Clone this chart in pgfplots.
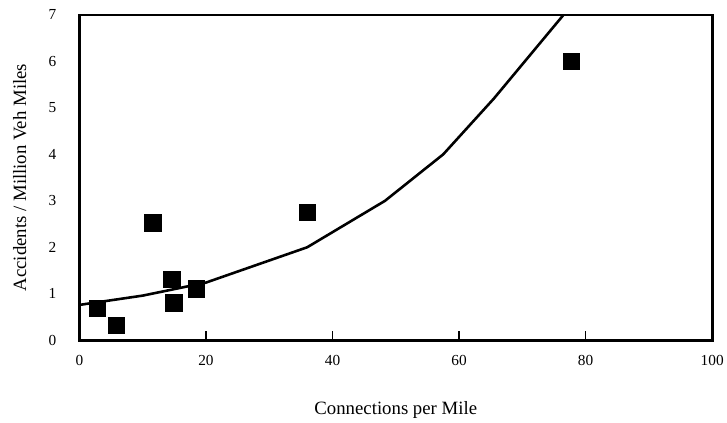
\documentclass[border=0pt]{standalone}
\usepackage{fontspec}
\setmainfont{Liberation Serif}
\usepackage{pgfplots}
\pgfplotsset{compat=1.18}
\begin{document}
\begin{tikzpicture}[x=1bp,y=1bp]
\begin{axis}[
    name=ax,
    scale only axis,
    width=638bp, height=328bp,
    xmin=0, xmax=100, ymin=0, ymax=7,
    axis line style={line width=2.6bp},
    xtick={0,20,...,100},
    ytick={0,1,...,7},
    major tick length=9bp,
    tick align=inside,
    xtick pos=bottom,
    ytick pos=left,
    xtick style={draw=black, line width=1.3bp},
    ytick style={draw=none},
    tick label style={font=\fontsize{15.5}{15.5}\selectfont},
    /pgf/number format/assume math mode=true,
    xticklabel style={anchor=center, yshift=-20bp},
    yticklabel style={anchor=center, xshift=-27bp},
    xlabel={Connections per Mile},
    ylabel={Accidents / Million Veh Miles},
    label style={font=\fontsize{19}{19}\selectfont},
    xlabel style={at={(rel axis cs:0.5,-0.213)}, anchor=center},
    ylabel style={at={(rel axis cs:-0.094,0.5)}, anchor=center},
    clip=true,
]
\addplot[black, line width=2.6bp, line join=round] coordinates {
(0,0.76) (10,0.96) (20,1.24) (36,2.0) (48.3,3.0) (57.5,4.0) (65.5,5.2) (71,6.1) (76.5,7.0) (78,7.3)
};
\addplot[only marks, mark=square*, mark size=8.3bp, black] coordinates {
(2.8,0.69) (5.8,0.32) (11.6,2.53) (14.6,1.31) (14.9,0.81) (18.5,1.11) (36.0,2.76) (77.7,6.0)
};
\end{axis}
\path (ax.south west) ++(-80bp,-83bp) rectangle ([xshift=9bp,yshift=15bp]ax.north east);
\end{tikzpicture}
\end{document}
